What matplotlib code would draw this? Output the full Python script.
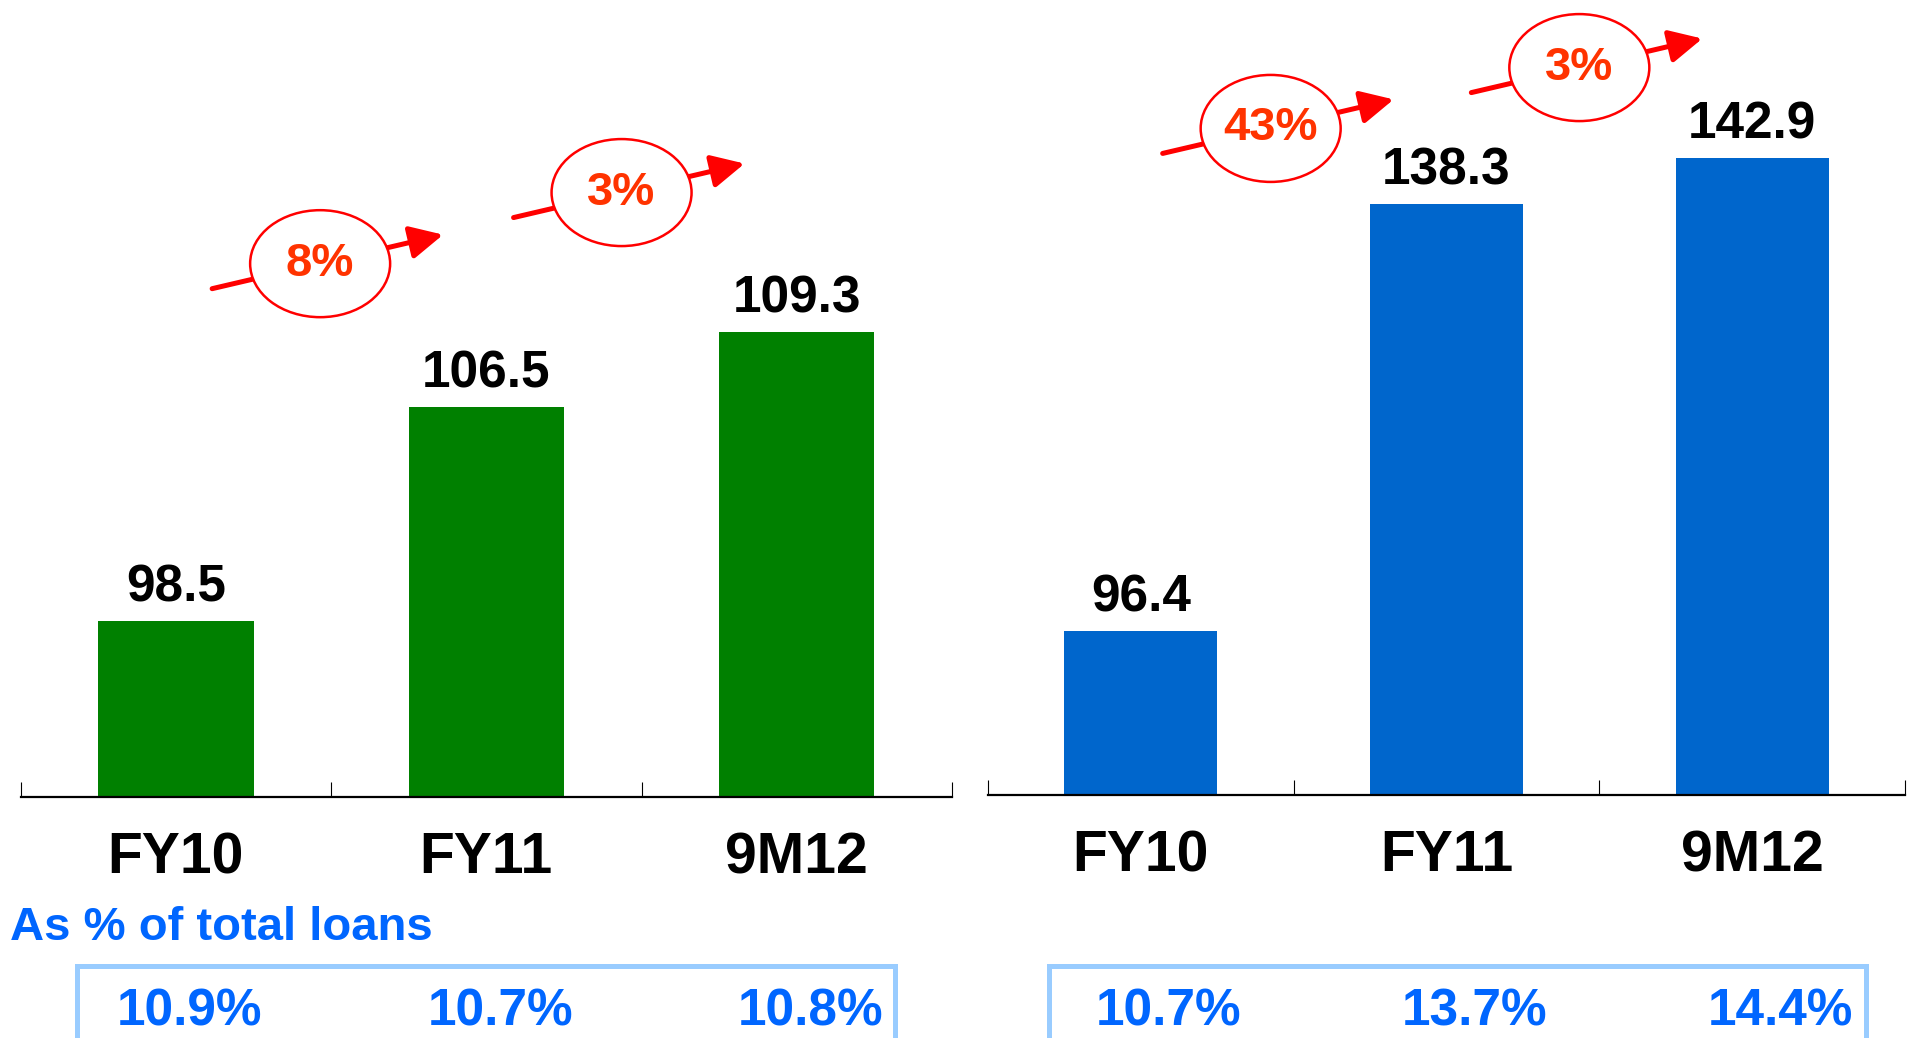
import matplotlib.pyplot as plt
from matplotlib.patches import Ellipse, Rectangle, FancyArrowPatch
from matplotlib.transforms import IdentityTransform

plt.rcParams['font.family'] = ['Liberation Sans', 'DejaVu Sans']
plt.rcParams['font.weight'] = 'bold'

# data
periods = ["FY10", "FY11", "9M12"]
left_values = [98.5, 106.5, 109.3]
right_values = [96.4, 138.3, 142.9]
left_growth = ["8%", "3%"]
right_growth = ["43%", "3%"]
left_share = ["10.9%", "10.7%", "10.8%"]
right_share = ["10.7%", "13.7%", "14.4%"]
share_title = "As % of total loans"

W, H = 1910, 1038
PT = 0.72  # px -> pt at 100 dpi
fig = plt.figure(figsize=(W / 100, H / 100), dpi=100)

panels = [
    # values, growth, share, colour, axes px (x0, x1, axis y), ylim,
    # growth bubble offsets px (dx, dy), share dx px, box px (x0, x1)
    (left_values, left_growth, left_share, "#008000", (20.7, 952, 797), (91.95, 121.66),
     [(-11, 143), (-20, 139)], 14, (77, 895)),
    (right_values, right_growth, right_share, "#0066CC", (988, 1905, 795), (80.29, 158.38),
     [(-23, 76), (-20, 90)], 28, (1049, 1866)),
]

for vals, growth, share, color, (x0, x1, ybase), ylim, goff, sdx, (b0, b1) in panels:
    ax = fig.add_axes([x0 / W, (H - ybase) / H, (x1 - x0) / W, ybase / H])
    x = range(len(periods))
    ax.bar(x, vals, width=0.5, color=color, zorder=2)
    ax.set_xlim(-0.5, len(periods) - 0.5)
    ax.set_ylim(*ylim)
    for s in ["left", "right", "top"]:
        ax.spines[s].set_visible(False)
    ax.spines["bottom"].set_linewidth(1.6)
    ax.set_yticks([])
    ax.set_xticks([i - 0.5 for i in range(len(periods) + 1)])
    ax.set_xticklabels([])
    ax.tick_params(axis="x", direction="in", length=10.8, width=0.8, color="black")

    for i, v in enumerate(vals):
        ax.annotate(f"{v}", xy=(i, v), xytext=(0, 14), textcoords="offset points",
                    ha="center", va="baseline", fontsize=37, fontweight="bold")
        ax.annotate(periods[i], xy=(i, 0), xycoords=("data", "axes fraction"),
                    xytext=(0, -76 * PT), textcoords="offset points",
                    ha="center", va="baseline", fontsize=41, fontweight="bold")
        ax.annotate(share[i], xy=(i, 0), xycoords=("data", "axes fraction"),
                    xytext=(sdx * PT, -(1026 - ybase) * PT), textcoords="offset points",
                    ha="center", va="baseline", fontsize=37, fontweight="bold",
                    color="#0066FF", annotation_clip=False)

    # growth bubbles with arrows
    for i, g in enumerate(growth):
        top = max(vals[i], vals[i + 1])
        cx, cy = ax.transData.transform((i + 0.5, top))
        cx, cy = cx + goff[i][0], cy + goff[i][1]
        arr = FancyArrowPatch((cx - 108, cy - 25), (cx + 123, cy + 29),
                              arrowstyle="-|>,head_length=1.0,head_width=0.5",
                              mutation_scale=20, lw=3.6, color="#FF0000",
                              shrinkA=0, shrinkB=0, transform=IdentityTransform(), zorder=3)
        fig.add_artist(arr)
        ell = Ellipse((cx, cy), 140, 107, facecolor="white", edgecolor="#FF0000",
                      lw=1.8, transform=IdentityTransform(), zorder=4)
        fig.add_artist(ell)
        fig.text(cx / W, cy / H, g, ha="center", va="center", fontsize=34,
                 fontweight="bold", color="#FF3300", zorder=5)

    fig.add_artist(Rectangle((b0, -30), b1 - b0, H - 966 + 30, fill=False,
                             edgecolor="#99CCFF", lw=3.6, transform=IdentityTransform()))

fig.text(10 / W, (H - 940) / H, share_title, ha="left", va="baseline",
         fontsize=34, fontweight="bold", color="#0066FF")

fig.savefig("out.png", dpi=100)
